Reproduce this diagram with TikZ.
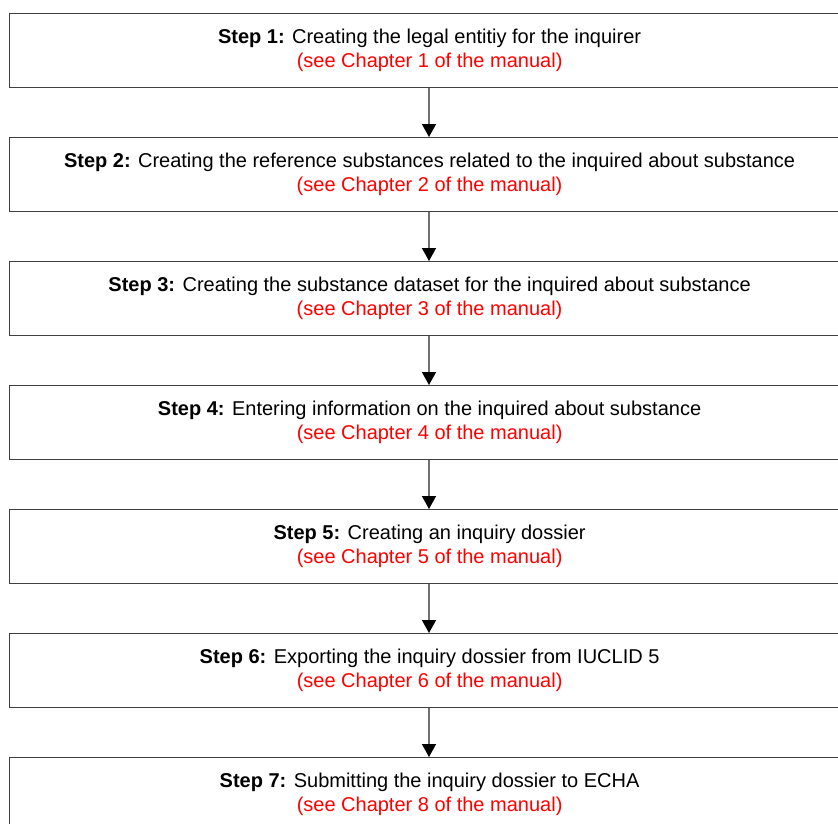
\documentclass[tikz,border=0pt]{standalone}
\usepackage{fontspec}
\setmainfont{Liberation Sans}
\usetikzlibrary{arrows.meta}
\definecolor{boxline}{HTML}{404040}
\definecolor{arrline}{HTML}{707070}
\definecolor{refred}{HTML}{FF0000}
\tikzset{
  stepbox/.style={draw=boxline, line width=1.2pt, minimum width=840pt, minimum height=74pt,
    inner sep=0pt, align=center, font=\fontsize{20pt}{24pt}\selectfont, anchor=north west},
  flow/.style={draw=arrline, line width=1.5pt, -{Triangle[width=14pt,length=13pt,color=black]}}
}
\newcommand{\chap}[1]{\textcolor{refred}{(see Chapter #1 of the manual)}}
\begin{document}
\begin{tikzpicture}[x=1pt,y=-1pt]
\useasboundingbox (0,0) rectangle (838,823);
\fill[white] (0,0) rectangle (838,823);
\node[stepbox] (s1) at (9,13)  {\textbf{Step 1:} Creating the legal entitiy for the inquirer\\\chap{1}};
\node[stepbox] (s2) at (9,137) {\textbf{Step 2:} Creating the reference substances related to the inquired about substance\\\chap{2}};
\node[stepbox] (s3) at (9,261) {\textbf{Step 3:} Creating the substance dataset for the inquired about substance\\\chap{3}};
\node[stepbox] (s4) at (9,385) {\textbf{Step 4:} Entering information on the inquired about substance\\\chap{4}};
\node[stepbox] (s5) at (9,509) {\textbf{Step 5:} Creating an inquiry dossier\\\chap{5}};
\node[stepbox] (s6) at (9,633) {\textbf{Step 6:} Exporting the inquiry dossier from IUCLID 5\\\chap{6}};
\node[stepbox] (s7) at (9,757) {\textbf{Step 7:} Submitting the inquiry dossier to ECHA\\\chap{8}};
\foreach \a/\b in {s1/s2,s2/s3,s3/s4,s4/s5,s5/s6,s6/s7}{
  \draw[flow] (\a.south west -| 429,0) -- (\b.north west -| 429,0);
}
\end{tikzpicture}
\end{document}
